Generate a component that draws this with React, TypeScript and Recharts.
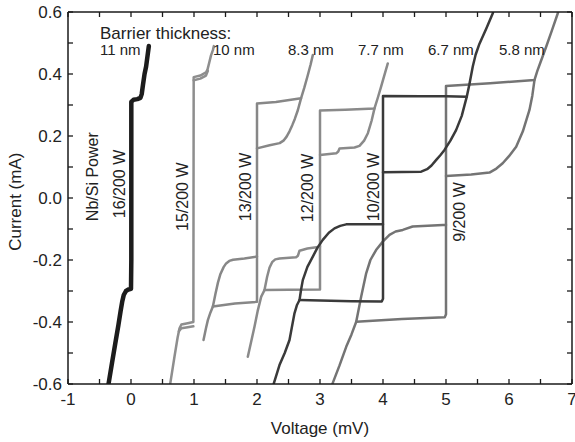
import React from 'react';
import { LineChart, Line, XAxis, YAxis } from 'recharts';

type Pt = [number, number];
type Seg = Pt[];

// Axis ticks (minor + major) and labelled values
const X_TICKS = [-1, -0.5, 0, 0.5, 1, 1.5, 2, 2.5, 3, 3.5, 4, 4.5, 5, 5.5, 6, 6.5, 7];
const Y_TICKS = [-0.6, -0.5, -0.4, -0.3, -0.2, -0.1, 0, 0.1, 0.2, 0.3, 0.4, 0.5, 0.6];
const X_LABELS = [-1, 0, 1, 2, 3, 4, 5, 6, 7];
const Y_LABELS = [-0.6, -0.4, -0.2, 0, 0.2, 0.4, 0.6];

const THICKNESS = ['11 nm', '10 nm', '8.3 nm', '7.7 nm', '6.7 nm', '5.8 nm'];
const POWER = ['16/200 W', '15/200 W', '13/200 W', '12/200 W', '10/200 W', '9/200 W'];

// I-V curves [voltage mV, current mA], each as segments of a hysteresis loop
const iv11nm: Seg[] = [
  [[-0.37, -0.63], [-0.357, -0.6], [-0.3, -0.53], [-0.25, -0.47], [-0.2, -0.41], [-0.165, -0.365], [-0.14, -0.335], [-0.115, -0.313], [-0.08, -0.3], [-0.04, -0.295], [0.0, -0.293], [0.005, -0.2], [0.005, 0.0], [0.005, 0.31], [0.04, 0.317], [0.1, 0.319], [0.15, 0.323], [0.17, 0.335], [0.19, 0.365], [0.215, 0.4], [0.24, 0.424], [0.283, 0.49]],
];
const iv10nm: Seg[] = [
  [[0.6, -0.63], [0.622, -0.6], [0.69, -0.512], [0.74, -0.45], [0.77, -0.42], [0.8, -0.408], [0.9, -0.404], [0.99, -0.4], [0.995, 0.39], [1.1, 0.395], [1.19, 0.405], [1.215, 0.415], [1.24, 0.435], [1.27, 0.46], [1.3, 0.477], [1.315, 0.49]],
  [[0.76, -0.43], [0.8, -0.42], [0.9, -0.417], [0.99, -0.414]],
  [[0.995, 0.38], [1.1, 0.385], [1.19, 0.395], [1.22, 0.41]],
];
const iv83nm: Seg[] = [
  [[1.151, -0.458], [1.19, -0.42], [1.22, -0.394], [1.26, -0.37], [1.3, -0.35], [1.34, -0.31], [1.38, -0.273], [1.42, -0.245], [1.47, -0.223], [1.51, -0.211], [1.56, -0.203], [1.62, -0.199], [1.8, -0.195], [2.0, -0.189], [2.0, 0.305], [2.3, 0.31], [2.7, 0.322], [2.75, 0.355], [2.806, 0.396], [2.85, 0.43], [2.886, 0.461]],
  [[2.0, -0.189], [2.0, -0.335], [1.65, -0.34], [1.3, -0.35]],
  [[2.0, 0.16], [2.2, 0.17], [2.36, 0.177], [2.42, 0.185], [2.47, 0.198], [2.516, 0.215], [2.56, 0.235], [2.6, 0.255], [2.648, 0.283], [2.7, 0.322]],
];
const iv77nm: Seg[] = [
  [[1.854, -0.512], [1.9, -0.47], [1.96, -0.415], [2.01, -0.365], [2.067, -0.318], [2.119, -0.297], [2.16, -0.255], [2.198, -0.225], [2.24, -0.207], [2.29, -0.198], [2.357, -0.195], [2.62, -0.191], [2.65, -0.186], [2.675, -0.17], [2.8, -0.163], [3.0, -0.157], [3.0, 0.282], [3.4, 0.285], [3.865, 0.289], [3.92, 0.325], [3.97, 0.359], [4.02, 0.395], [4.076, 0.434]],
  [[3.0, -0.157], [3.0, -0.295], [2.5, -0.296], [2.119, -0.297]],
  [[3.0, 0.139], [3.257, 0.144], [3.29, 0.15], [3.31, 0.16], [3.548, 0.163], [3.627, 0.168], [3.7, 0.185], [3.76, 0.209], [3.82, 0.25], [3.865, 0.289]],
];
const iv67nm: Seg[] = [
  [[2.25, -0.62], [2.267, -0.598], [2.357, -0.539], [2.44, -0.5], [2.516, -0.458], [2.56, -0.41], [2.595, -0.372], [2.635, -0.345], [2.675, -0.329], [2.7, -0.295], [2.727, -0.265], [2.8, -0.222], [2.886, -0.189], [2.96, -0.16], [3.044, -0.135], [3.14, -0.112], [3.23, -0.098], [3.32, -0.09], [3.416, -0.085], [4.0, -0.085], [4.0, 0.329], [4.6, 0.328], [5.0, 0.328], [5.33, 0.327], [5.37, 0.365], [5.425, 0.424], [5.47, 0.462], [5.53, 0.497], [5.64, 0.547], [5.743, 0.596], [5.76, 0.61]],
  [[4.0, -0.085], [4.0, -0.325], [3.98, -0.334], [3.5, -0.333], [2.675, -0.329]],
  [[4.0, 0.083], [4.3, 0.084], [4.606, 0.085], [4.7, 0.093], [4.77, 0.105], [4.845, 0.123], [4.91, 0.138], [4.976, 0.155], [5.07, 0.185], [5.16, 0.219], [5.25, 0.265], [5.33, 0.327]],
];
const iv58nm: Seg[] = [
  [[3.18, -0.62], [3.2, -0.598], [3.31, -0.54], [3.416, -0.48], [3.5, -0.44], [3.575, -0.399], [3.654, -0.318], [3.733, -0.243], [3.8, -0.2], [3.89, -0.168], [4.0, -0.14], [4.103, -0.119], [4.2, -0.108], [4.314, -0.103], [4.47, -0.092], [4.95, -0.087], [5.0, -0.087], [5.0, 0.361], [5.7, 0.37], [6.405, 0.381], [6.45, 0.41], [6.5, 0.438], [6.59, 0.488], [6.68, 0.54], [6.775, 0.596], [6.79, 0.61]],
  [[5.0, -0.087], [5.0, -0.375], [4.98, -0.385], [4.3, -0.39], [3.575, -0.399]],
  [[5.0, 0.071], [5.4, 0.076], [5.69, 0.082], [5.8, 0.095], [5.9, 0.112], [6.0, 0.135], [6.114, 0.165], [6.22, 0.215], [6.325, 0.284], [6.37, 0.33], [6.405, 0.381]],
];

const CURVES = [
  { name: THICKNESS[0], segs: iv11nm, color: '#1c1c1c', width: 4.5 },
  { name: THICKNESS[1], segs: iv10nm, color: '#8e8e8e', width: 2.5 },
  { name: THICKNESS[2], segs: iv83nm, color: '#878787', width: 2.5 },
  { name: THICKNESS[3], segs: iv77nm, color: '#8a8a8a', width: 2.5 },
  { name: THICKNESS[5], segs: iv58nm, color: '#747474', width: 2.5 },
  { name: THICKNESS[4], segs: iv67nm, color: '#3a3a3a', width: 2.5 },
];

const FONT = '"Liberation Sans", Arial, Helvetica, sans-serif';
const AXIS_COLOR = '#1a1a1a';
const TEXT_COLOR = '#222';
const TICK_LEN = 5;

const near = (arr: number[], v: number) => arr.some((a) => Math.abs(a - v) < 1e-9);

function BottomTick(props: any) {
  const { x, y, payload } = props;
  const v = payload.value as number;
  return (
    <g>
      <line x1={x} x2={x} y1={y} y2={y - TICK_LEN} stroke={AXIS_COLOR} strokeWidth={1.3} />
      {near(X_LABELS, v) && (
        <text x={x} y={y + 21} textAnchor="middle" fontSize={17} fill={TEXT_COLOR} fontFamily={FONT}>
          {String(v)}
        </text>
      )}
    </g>
  );
}
function TopTick(props: any) {
  const { x, y } = props;
  return <line x1={x} x2={x} y1={y} y2={y + TICK_LEN} stroke={AXIS_COLOR} strokeWidth={1.3} />;
}
function LeftTick(props: any) {
  const { x, y, payload } = props;
  const v = payload.value as number;
  return (
    <g>
      <line x1={x} x2={x + TICK_LEN} y1={y} y2={y} stroke={AXIS_COLOR} strokeWidth={1.3} />
      {near(Y_LABELS, v) && (
        <text x={x - 6} y={y + 6} textAnchor="end" fontSize={17} fill={TEXT_COLOR} fontFamily={FONT}>
          {v.toFixed(1)}
        </text>
      )}
    </g>
  );
}
function RightTick(props: any) {
  const { x, y } = props;
  return <line x1={x} x2={x - TICK_LEN} y1={y} y2={y} stroke={AXIS_COLOR} strokeWidth={1.3} />;
}

const LABEL_POS = [
  { cx: 124.5, cy: 184 },
  { cx: 188, cy: 196.7 },
  { cx: 251, cy: 187 },
  { cx: 313, cy: 188 },
  { cx: 379, cy: 187 },
  { cx: 465, cy: 212 },
];
const NM_X = [100, 213, 288, 358, 428, 499];

export default function App() {
  const axisLine = { stroke: AXIS_COLOR, strokeWidth: 1.5 };
  return (
    <div style={{ position: 'absolute', left: 0, top: 0, width: 575, height: 442, background: '#fff' }}>
      <LineChart width={575} height={442} margin={{ top: 11, right: 0, bottom: 0, left: 0 }}>
        <XAxis
          xAxisId="b"
          type="number"
          dataKey="v"
          domain={[-1, 7]}
          ticks={X_TICKS}
          allowDataOverflow
          height={58}
          interval={0}
          tickSize={0}
          tickMargin={0}
          tickLine={false}
          axisLine={axisLine}
          tick={<BottomTick />}
        />
        <XAxis
          xAxisId="t"
          orientation="top"
          type="number"
          dataKey="v"
          domain={[-1, 7]}
          ticks={X_TICKS}
          allowDataOverflow
          height={1}
          interval={0}
          tickSize={0}
          tickMargin={0}
          tickLine={false}
          axisLine={axisLine}
          tick={<TopTick />}
        />
        <YAxis
          yAxisId="l"
          type="number"
          domain={[-0.6, 0.6]}
          ticks={Y_TICKS}
          allowDataOverflow
          width={68}
          interval={0}
          tickSize={0}
          tickMargin={0}
          tickLine={false}
          axisLine={axisLine}
          tick={<LeftTick />}
        />
        <YAxis
          yAxisId="r"
          orientation="right"
          type="number"
          domain={[-0.6, 0.6]}
          ticks={Y_TICKS}
          allowDataOverflow
          width={3}
          interval={0}
          tickSize={0}
          tickMargin={0}
          tickLine={false}
          axisLine={axisLine}
          tick={<RightTick />}
        />
        {CURVES.flatMap((c) =>
          c.segs.map((seg, si) => (
            <Line
              key={c.name + '-' + si}
              xAxisId="b"
              yAxisId="l"
              data={seg.map(([v, i]) => ({ v, i }))}
              dataKey="i"
              type="linear"
              stroke={c.color}
              strokeWidth={c.width}
              strokeLinejoin="round"
              strokeLinecap="round"
              dot={false}
              activeDot={false}
              isAnimationActive={false}
            />
          ))
        )}
      </LineChart>
      <svg
        width={575}
        height={442}
        style={{ position: 'absolute', left: 0, top: 0, pointerEvents: 'none' }}
        fontFamily={FONT}
        fill={TEXT_COLOR}
      >
        <text x={100} y={39} fontSize={17}>Barrier thickness:</text>
        {THICKNESS.map((t, k) => (
          <text key={t} x={NM_X[k]} y={54.5} fontSize={15}>{t}</text>
        ))}
        <text x={98.5} y={176.7} fontSize={16} textAnchor="middle" transform="rotate(-90 98.5 176.7)">Nb/Si Power</text>
        {POWER.map((p, k) => (
          <text
            key={p}
            x={LABEL_POS[k].cx}
            y={LABEL_POS[k].cy}
            fontSize={16}
            textAnchor="middle"
            transform={`rotate(-90 ${LABEL_POS[k].cx} ${LABEL_POS[k].cy})`}
          >
            {p}
          </text>
        ))}
        <text x={320} y={434} fontSize={17} textAnchor="middle">Voltage (mV)</text>
        <text x={21} y={201.7} fontSize={17} textAnchor="middle" transform="rotate(-90 21 201.7)">Current (mA)</text>
      </svg>
    </div>
  );
}
